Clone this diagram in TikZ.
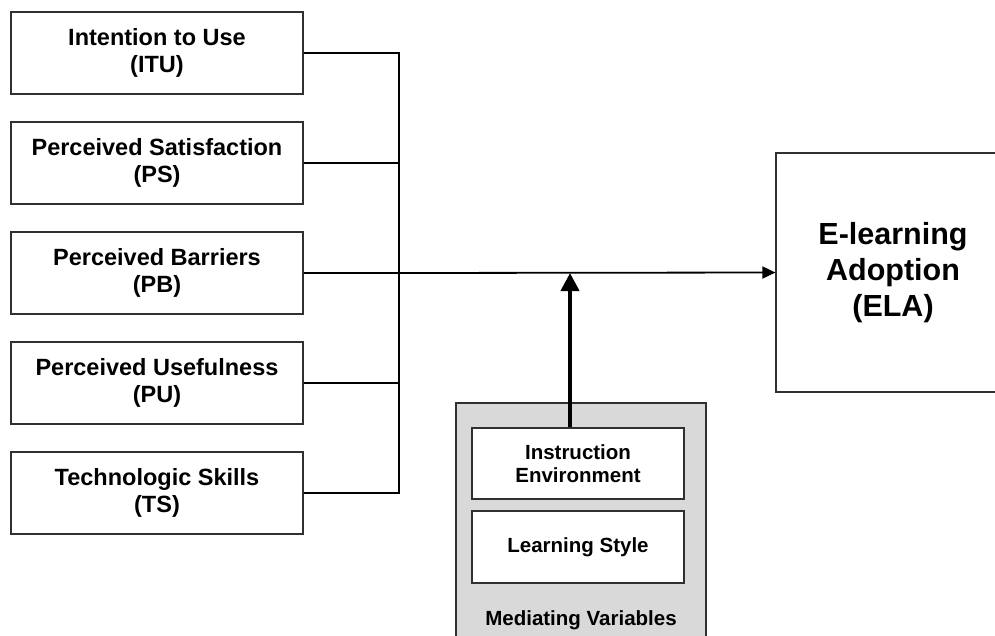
\documentclass[tikz,border=0pt]{standalone}
\usepackage{fontspec}
\setmainfont{Liberation Sans}
\usetikzlibrary{arrows.meta}
\definecolor{edge}{HTML}{303030}
\definecolor{panel}{HTML}{D9D9D9}
\begin{document}
\begin{tikzpicture}[x=1pt,y=-1pt,
  lbox/.style={draw=edge,line width=1.2pt,fill=white,minimum width=292pt,minimum height=82pt,
    align=center,inner sep=0pt,font=\bfseries\fontsize{23.5}{27.7}\selectfont},
  bigbox/.style={draw=edge,line width=1.2pt,fill=white,minimum width=234pt,minimum height=239pt,
    align=center,inner sep=0pt,font=\bfseries\fontsize{30.5}{36}\selectfont},
  mbox/.style={draw=edge,line width=1.2pt,fill=white,minimum width=212pt,minimum height=71pt,
    align=center,inner sep=0pt,font=\bfseries\fontsize{20.5}{22.5}\selectfont},
  conn/.style={line width=1.8pt,black},
  mainarrow/.style={conn,-{Triangle[length=13pt,width=12pt]}},
  thickarrow/.style={line width=4pt,black,-{Triangle[length=18pt,width=18pt]}}]
\clip (0,0) rectangle (995,635);
\fill[white] (0,0) rectangle (995,635);

% independent variables
\node[lbox] (itu) at (157,53)  {Intention to Use\\(ITU)};
\node[lbox] (ps)  at (157,163) {Perceived Satisfaction\\(PS)};
\node[lbox] (pb)  at (157,273) {Perceived Barriers\\(PB)};
\node[lbox] (pu)  at (157,383) {Perceived Usefulness\\(PU)};
\node[lbox] (ts)  at (157,493) {Technologic Skills\\(TS)};

% dependent variable
\node[bigbox] (ela) at (893,272.5) {E-learning\\Adoption\\(ELA)};

% mediating variables panel
\node[draw=edge,line width=1.2pt,fill=panel,minimum width=250pt,minimum height=247pt,inner sep=0pt]
  (med) at (581,526.5) {};
\node[mbox] (ie) at (578,463.5) {Instruction\\Environment};
\node[mbox,minimum height=72pt] (ls) at (578,547) {Learning Style};
\node[font=\bfseries\fontsize{20.5}{22.5}\selectfont,inner sep=0pt] (mlabel) at (581,620) {Mediating Variables};

% collecting bus
\coordinate (bus) at (399,273);
\coordinate (hit) at (570,273);
\draw[conn] (itu.east) -| (bus);
\draw[conn] (ps.east) -| (bus);
\draw[conn] (pu.east) -| (bus);
\draw[conn] (ts.east) -| (bus);
\draw[conn] (pb.east) -- (bus);
\draw[mainarrow] (bus) -- (ela.west);

% moderating influence
\draw[thickarrow] (ie.north -| hit) -- (hit);
\end{tikzpicture}
\end{document}
